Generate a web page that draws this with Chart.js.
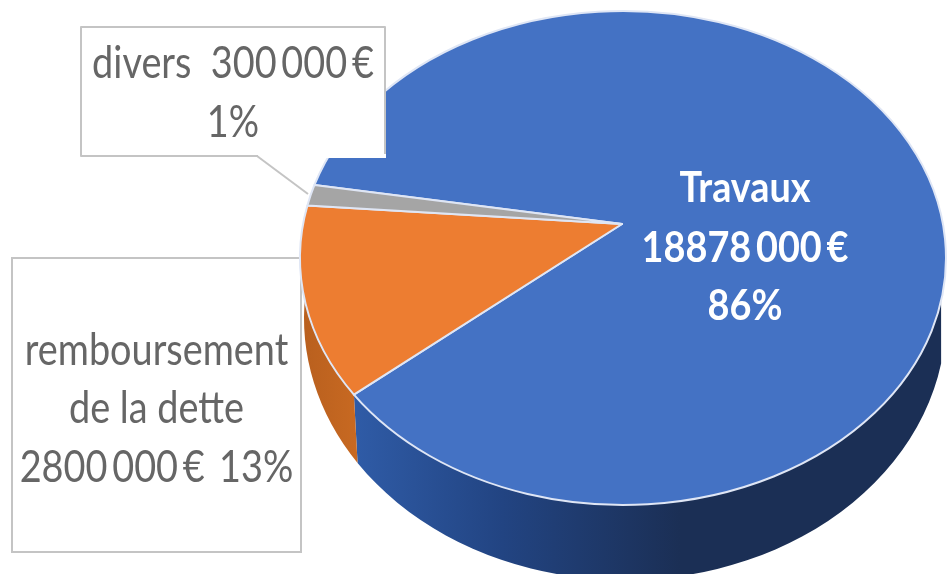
<!DOCTYPE html>
<html lang="fr">
<head>
    <meta charset="UTF-8">
    <title>Répartition du budget</title>
    <script src="https://cdn.jsdelivr.net/npm/chart.js"></script>
    <style>
        html, body { margin: 0; padding: 0; background: #fff; }
        #wrap { width: 949px; height: 574px; }
    </style>
</head>
<body>
    <div id="wrap"><canvas id="pie"></canvas></div>
    <script>
        const categories = ['Travaux', 'remboursement de la dette', 'divers'];
        const amounts = [18878000, 2800000, 300000];
        const sliceColors = ['#4472c4', '#ed7d31', '#a5a5a5'];
        const travauxLines = ['Travaux', '18878\u2009000\u2009€', '86%'];
        const detteLines = ['remboursement', 'de la dette', '2800\u2009000\u2009€ \u200913%'];
        const diversLines = ['divers  300\u2009000\u2009€', '1%'];

        // the pie is tilted: apex sits above the centre of the top ellipse
        const top3d = { cx: 623, cy: 258, rx: 323, ry: 247, apexX: 622, apexY: 224 };
        const bottom3d = { cx: 625, cy: 318, rx: 321, ry: 262 };
        const rad = d => d * Math.PI / 180;
        const ellipsePoint = (e, t) => [e.cx + e.rx * Math.cos(t), e.cy + e.ry * Math.sin(t)];

        function drawSide(ctx, start, end, fill) {
            const a = Math.max(start, rad(370));
            const b = Math.min(end, rad(545));
            if (b <= a) return;
            ctx.beginPath();
            ctx.ellipse(top3d.cx, top3d.cy, top3d.rx, top3d.ry, 0, a, b);
            ctx.lineTo(...ellipsePoint(bottom3d, b));
            ctx.ellipse(bottom3d.cx, bottom3d.cy, bottom3d.rx, bottom3d.ry, 0, b, a, true);
            ctx.closePath();
            ctx.fillStyle = fill;
            ctx.fill();
        }

        function drawBox(ctx, x, y, w, h, lines, lineY) {
            ctx.fillStyle = '#fff';
            ctx.strokeStyle = '#c4c4c4';
            ctx.lineWidth = 2;
            ctx.fillRect(x, y, w, h);
            ctx.strokeRect(x, y, w, h);
            writeLines(ctx, lines, x + w / 2, lineY, '#666666', '400 44px Lato', 0.86);
        }

        // the source font is narrower than Lato, so squeeze it horizontally
        function writeLines(ctx, lines, x, ys, color, font, squeeze) {
            ctx.save();
            ctx.translate(x, 0);
            ctx.scale(squeeze, 1);
            ctx.fillStyle = color;
            ctx.font = font;
            ctx.textAlign = 'center';
            ctx.textBaseline = 'alphabetic';
            lines.forEach((line, i) => ctx.fillText(line, 0, ys[i]));
            ctx.restore();
        }

        const tiltedPie = {
            id: 'tiltedPie',
            beforeDatasetsDraw(chart) {
                const ctx = chart.ctx;
                const arcs = chart.getDatasetMeta(0).data;
                ctx.save();

                drawBox(ctx, 12, 258, 289, 294, detteLines, [365, 423, 482]);

                // side walls first
                const blueSide = ctx.createLinearGradient(357, 0, 680, 0);
                blueSide.addColorStop(0, '#2f5ba6');
                blueSide.addColorStop(0.45, '#224482');
                blueSide.addColorStop(1, '#1b2f55');
                const orangeSide = ctx.createLinearGradient(300, 0, 362, 0);
                orangeSide.addColorStop(0, '#b85f1e');
                orangeSide.addColorStop(1, '#c96a22');
                const sideFills = [blueSide, orangeSide, '#7c7c7c'];
                arcs.forEach((arc, i) => drawSide(ctx, arc.startAngle, arc.endAngle, sideFills[i]));

                // top face, slices come from the arc elements of the chart
                arcs.forEach((arc, i) => {
                    ctx.beginPath();
                    ctx.moveTo(top3d.apexX, top3d.apexY);
                    ctx.ellipse(top3d.cx, top3d.cy, top3d.rx, top3d.ry, 0, arc.startAngle, arc.endAngle);
                    ctx.closePath();
                    ctx.fillStyle = sliceColors[i];
                    ctx.fill();
                    ctx.strokeStyle = '#dfe6f5';
                    ctx.lineWidth = 2;
                    ctx.lineJoin = 'round';
                    ctx.stroke();
                });

                // divers callout sits over the pie
                ctx.fillStyle = '#fff';
                ctx.beginPath();
                ctx.moveTo(257, 156);
                ctx.lineTo(308, 194);
                ctx.lineTo(322, 156);
                ctx.closePath();
                ctx.fill();
                drawBox(ctx, 81, 27, 304, 129, diversLines, [78, 137]);
                ctx.fillStyle = '#fff';
                ctx.fillRect(258, 154, 128, 4);
                ctx.strokeStyle = '#c4c4c4';
                ctx.lineWidth = 2;
                ctx.beginPath();
                ctx.moveTo(257, 156);
                ctx.lineTo(308, 194);
                ctx.stroke();

                writeLines(ctx, travauxLines, 745, [202, 262, 320], '#ffffff', '700 42px Lato', 0.9);
                ctx.restore();
                return false;
            }
        };

        new Chart(document.getElementById('pie'), {
            type: 'pie',
            data: {
                labels: categories,
                datasets: [{ data: amounts, backgroundColor: sliceColors }]
            },
            options: {
                responsive: true,
                maintainAspectRatio: false,
                animation: false,
                rotation: 287.2,
                plugins: { legend: { display: false }, tooltip: { enabled: false } }
            },
            plugins: [tiltedPie]
        });
    </script>
</body>
</html>
